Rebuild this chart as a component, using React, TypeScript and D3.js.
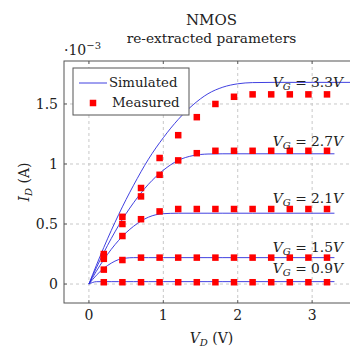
import React from "react";
import * as d3 from "d3";

// measured drain voltage points (V)
const vdMeasured = [0.2, 0.45, 0.7, 0.95, 1.2, 1.45, 1.7, 1.95, 2.2, 2.45, 2.7, 2.95, 3.2];

// measured I_D (x1e-3 A) per gate voltage
const meas33 = [0.25, 0.56, 0.8, 1.05, 1.24, 1.39, 1.5, 1.56, 1.58, 1.58, 1.58, 1.58, 1.58];
const meas27 = [0.23, 0.5, 0.73, 0.91, 1.03, 1.09, 1.11, 1.11, 1.11, 1.11, 1.11, 1.11, 1.11];
const meas21 = [0.21, 0.4, 0.54, 0.605, 0.625, 0.625, 0.625, 0.625, 0.625, 0.625, 0.625, 0.625, 0.625];
const meas15 = [0.12, 0.2, 0.22, 0.22, 0.22, 0.22, 0.22, 0.22, 0.22, 0.22, 0.22, 0.22, 0.22];
const meas09 = [0.015, 0.015, 0.015, 0.015, 0.015, 0.015, 0.015, 0.015, 0.015, 0.015, 0.015, 0.015, 0.015];

// simulated curves, sampled
const vdSim = [0, 0.1, 0.2, 0.3, 0.4, 0.5, 0.6, 0.8, 1.0, 1.2, 1.4, 1.6, 1.8, 2.0, 2.2, 2.5, 3.0, 3.3];
const vdSim33 = [0, 0.1, 0.2, 0.3, 0.4, 0.5, 0.6, 0.8, 1.0, 1.2, 1.4, 1.6, 1.8, 2.0, 2.2, 2.5, 3.0, 3.6];
const sim33 = [0, 0.156, 0.305, 0.446, 0.579, 0.705, 0.823, 1.04, 1.219, 1.371, 1.493, 1.585, 1.64, 1.668, 1.678, 1.68, 1.68, 1.68];
const sim27 = [0, 0.135, 0.262, 0.379, 0.488, 0.587, 0.677, 0.831, 0.948, 1.03, 1.07, 1.083, 1.085, 1.085, 1.085, 1.085, 1.085, 1.085];
const sim21 = [0, 0.107, 0.203, 0.289, 0.364, 0.428, 0.481, 0.557, 0.586, 0.59, 0.59, 0.59, 0.59, 0.59, 0.59, 0.59, 0.59, 0.59];
const sim15 = [0, 0.073, 0.131, 0.174, 0.204, 0.216, 0.22, 0.22, 0.22, 0.22, 0.22, 0.22, 0.22, 0.22, 0.22, 0.22, 0.22, 0.22];
const sim09 = [0, 0.0195, 0.02, 0.02, 0.02, 0.02, 0.02, 0.02, 0.02, 0.02, 0.02, 0.02, 0.02, 0.02, 0.02, 0.02, 0.02, 0.02];

const gateLabels = ["3.3V", "2.7V", "2.1V", "1.5V", "0.9V"];
const labelAt = [1.642, 1.15, 0.675, 0.267, 0.092]; // data y of label baselines

const xTicks = [0, 1, 2, 3];
const yTicks = [0, 0.5, 1, 1.5];
const yTickLabels = ["0", "0.5", "1", "1.5"];

const measured = [meas33, meas27, meas21, meas15, meas09];
const simulated = [sim33, sim27, sim21, sim15, sim09];
const simX = [vdSim33, vdSim, vdSim, vdSim, vdSim];

const FONT = "'DejaVu Serif', serif";
const INK = "#222";

export default function App() {
  const left = 64, right = 359, top = 61, bottom = 303;
  const x = d3.scaleLinear().domain([-0.335, 3.63]).range([left, right]);
  const y = d3.scaleLinear().domain([-0.158, 1.858]).range([bottom, top]);

  const line = d3
    .line<[number, number]>()
    .x((d) => x(d[0]))
    .y((d) => y(d[1]))
    .curve(d3.curveMonotoneX);

  const ms = 6.5;

  return (
    <svg
      width={350}
      height={350}
      style={{ position: "fixed", left: 0, top: 0, background: "#fff" }}
      fontFamily={FONT}
    >
      <rect width={350} height={350} fill="#fff" />
      {/* grid */}
      {xTicks.map((t) => (
        <line key={"gx" + t} x1={x(t)} x2={x(t)} y1={top} y2={bottom} stroke="#c8c8c8" strokeDasharray="3,3" />
      ))}
      {yTicks.map((t) => (
        <line key={"gy" + t} x1={left} x2={right} y1={y(t)} y2={y(t)} stroke="#c8c8c8" strokeDasharray="3,3" />
      ))}
      {/* ticks */}
      {xTicks.map((t) => (
        <g key={"tx" + t}>
          <line x1={x(t)} x2={x(t)} y1={bottom} y2={bottom - 3} stroke="#666" />
          <line x1={x(t)} x2={x(t)} y1={top} y2={top + 3} stroke="#666" />
          <text x={x(t)} y={320} textAnchor="middle" fontSize={14} fill={INK}>
            {t}
          </text>
        </g>
      ))}
      {yTicks.map((t, i) => (
        <g key={"ty" + t}>
          <line x1={left} x2={left + 3} y1={y(t)} y2={y(t)} stroke="#666" />
          <text x={58} y={y(t) + 5} textAnchor="end" fontSize={14} fill={INK}>
            {yTickLabels[i]}
          </text>
        </g>
      ))}

      {/* simulated */}
      {simulated.map((s, i) => (
        <path
          key={"s" + i}
          d={line(s.map((v, j) => [simX[i][j], v] as [number, number])) || ""}
          fill="none"
          stroke="#2b2bdd"
          strokeWidth={0.9}
        />
      ))}
      {/* measured */}
      {measured.map((s, i) =>
        s.map((v, j) => (
          <rect
            key={"m" + i + "-" + j}
            x={x(vdMeasured[j]) - ms / 2}
            y={y(v) - ms / 2}
            width={ms}
            height={ms}
            fill="#ff0000"
          />
        ))
      )}

      {/* gate labels */}
      {gateLabels.map((g, i) => (
        <text key={"g" + i} x={343} y={y(labelAt[i])} textAnchor="end" fontSize={13.8} fill={INK}>
          <tspan fontStyle="italic">V</tspan>
          <tspan fontStyle="italic" fontSize={10} dy={3}>G</tspan>
          <tspan dy={-3}>{" = " + g.slice(0, -1)}</tspan>
          <tspan fontStyle="italic">V</tspan>
        </text>
      ))}

      {/* frame */}
      <rect x={left} y={top} width={right - left} height={bottom - top} fill="none" stroke="#555" strokeWidth={1} />

      {/* legend */}
      <rect x={73} y={68} width={116} height={47} fill="#fff" stroke="#555" />
      <line x1={79} x2={107} y1={83} y2={83} stroke="#2b2bdd" strokeWidth={0.9} />
      <text x={109} y={87} fontSize={13.3} fill={INK}>Simulated</text>
      <rect x={93 - ms / 2} y={103 - ms / 2} width={ms} height={ms} fill="#ff0000" />
      <text x={112} y={107} fontSize={13.3} fill={INK}>Measured</text>

      {/* titles */}
      <text x={211.5} y={25} textAnchor="middle" fontSize={15} fill={INK}>NMOS</text>
      <text x={211.5} y={43} textAnchor="middle" fontSize={13.7} fill={INK}>re-extracted parameters</text>
      <text x={64} y={55} fontSize={14} fill={INK}>
        ·10<tspan fontSize={10} dy={-6}>−3</tspan>
      </text>

      {/* axis labels */}
      <text x={211.5} y={343} textAnchor="middle" fontSize={14} fill={INK}>
        <tspan fontStyle="italic">V</tspan>
        <tspan fontStyle="italic" fontSize={10} dy={3}>D</tspan>
        <tspan dy={-3}> (V)</tspan>
      </text>
      <text transform="translate(29,182) rotate(-90)" textAnchor="middle" fontSize={14} fill={INK}>
        <tspan fontStyle="italic">I</tspan>
        <tspan fontStyle="italic" fontSize={10} dy={3}>D</tspan>
        <tspan dy={-3}> (A)</tspan>
      </text>
    </svg>
  );
}
